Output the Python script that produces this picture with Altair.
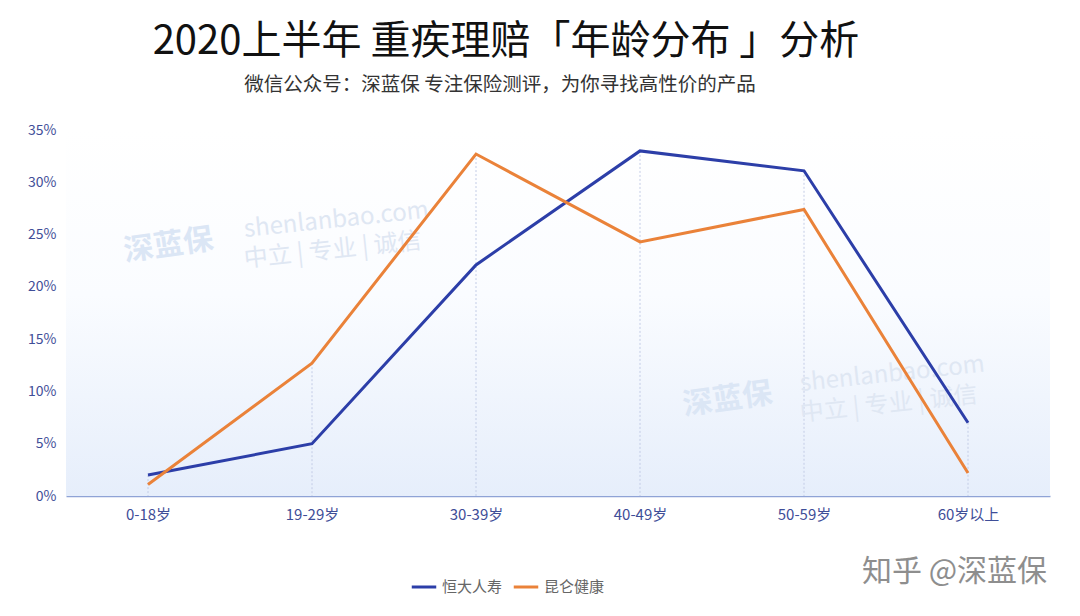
import altair as alt
import pandas as pd

ages = ["0-18岁", "19-29岁", "30-39岁", "40-49岁", "50-59岁", "60岁以上"]
series_names = ["恒大人寿", "昆仑健康"]
hengda = [0.020, 0.050, 0.221, 0.330, 0.311, 0.070]
kunlun = [0.011, 0.127, 0.327, 0.243, 0.274, 0.022]
colors = ["#2c3ea8", "#ea8239"]

rows = []
for name, vals in zip(series_names, [hengda, kunlun]):
    for a, v in zip(ages, vals):
        rows.append({"age": a, "share": v, "company": name})
df = pd.DataFrame(rows)

W, H = 984, 366
FONT = "Noto Sans CJK SC"
AXIS_COLOR = "#3f4e98"

xscale = alt.Scale(type="point", padding=0.5, domain=ages)

bg = alt.Chart(pd.DataFrame({"k": [0]})).mark_rect(
    color=alt.LinearGradient(
        gradient="linear",
        stops=[
            alt.GradientStop(color="#ffffff", offset=0),
            alt.GradientStop(color="#fafcff", offset=0.45),
            alt.GradientStop(color="#e6eefb", offset=1),
        ],
        x1=0, x2=0, y1=0, y2=1,
    )
).encode(x=alt.value(0), x2=alt.value(W), y=alt.value(0), y2=alt.value(H))

drops = alt.Chart(df).mark_rule(color="#c3cce6", strokeWidth=1, strokeDash=[2, 2]).encode(
    x=alt.X("age:N", scale=xscale, sort=ages),
    y=alt.Y("max(share):Q"),
    y2=alt.value(H),
)

wm_color = "#dfe7f3"
wm = pd.DataFrame({"k": [0]})
def txt(text, x, y, size, color, angle=0, weight="normal", align="left", font=FONT):
    return alt.Chart(wm).mark_text(
        text=text, fontSize=size, color=color, angle=angle, fontWeight=weight,
        align=align, baseline="middle", font=font,
    ).encode(x=alt.value(x), y=alt.value(y))

watermarks = [
    txt("深蓝保", 58, 122, 30, "#dbe6f5", 352, "bold"),
    txt("shenlanbao.com", 178, 100, 24, wm_color, 354),
    txt("中立 | 专业 | 诚信", 178, 130, 24, wm_color, 354),
    txt("深蓝保", 617, 276, 30, "#dbe6f5", 352, "bold"),
    txt("shenlanbao.com", 734, 254, 24, wm_color, 354),
    txt("中立 | 专业 | 诚信", 734, 284, 24, wm_color, 354),
]

lines = alt.Chart(df).mark_line(strokeWidth=3, strokeJoin="miter").encode(
    x=alt.X("age:N", sort=ages, scale=xscale,
            axis=alt.Axis(title=None, labelAngle=0, labelAlign="center", grid=False, ticks=False,
                          domainColor="#8fa3d6", domainWidth=1.5,
                          labelColor=AXIS_COLOR, labelFontSize=15, labelFont=FONT,
                          labelPadding=18)),
    y=alt.Y("share:Q", scale=alt.Scale(domain=[0, 0.35]),
            axis=alt.Axis(title=None, format=".0%", values=[0, 0.05, 0.1, 0.15, 0.2, 0.25, 0.3, 0.35],
                          grid=False, domain=False, ticks=False,
                          labelColor=AXIS_COLOR, labelFontSize=14, labelFont=FONT,
                          labelPadding=10)),
    color=alt.Color("company:N", sort=series_names,
                    scale=alt.Scale(domain=series_names, range=colors),
                    legend=alt.Legend(title=None, orient="none", direction="horizontal",
                                      legendX=344, legendY=443,
                                      symbolType="stroke", symbolStrokeWidth=3,
                                      symbolSize=600, columnPadding=4, labelOffset=4,
                                      labelColor="#666666", labelFontSize=15,
                                      labelFont=FONT)),
)

title = txt("2020上半年 重疾理赔「年龄分布 」分析", 440, -88, 40, "#111111", align="center")
subtitle = txt("微信公众号：深蓝保  专注保险测评，为你寻找高性价的产品", 434, -45, 19.5, "#333333", align="center")
brand = txt("知乎 @深蓝保", 796, 442, 30, "#8e8e8e")

chart = alt.layer(bg, drops, *watermarks, lines, title, subtitle, brand).properties(
    width=W, height=H,
    autosize=alt.AutoSizeParams(type="none"),
    padding={"left": 58, "top": 122, "right": 22, "bottom": 112},
    background="#ffffff",
).configure_view(stroke=None)

chart.save("out.html", embed_options={"renderer": "svg", "actions": False})
